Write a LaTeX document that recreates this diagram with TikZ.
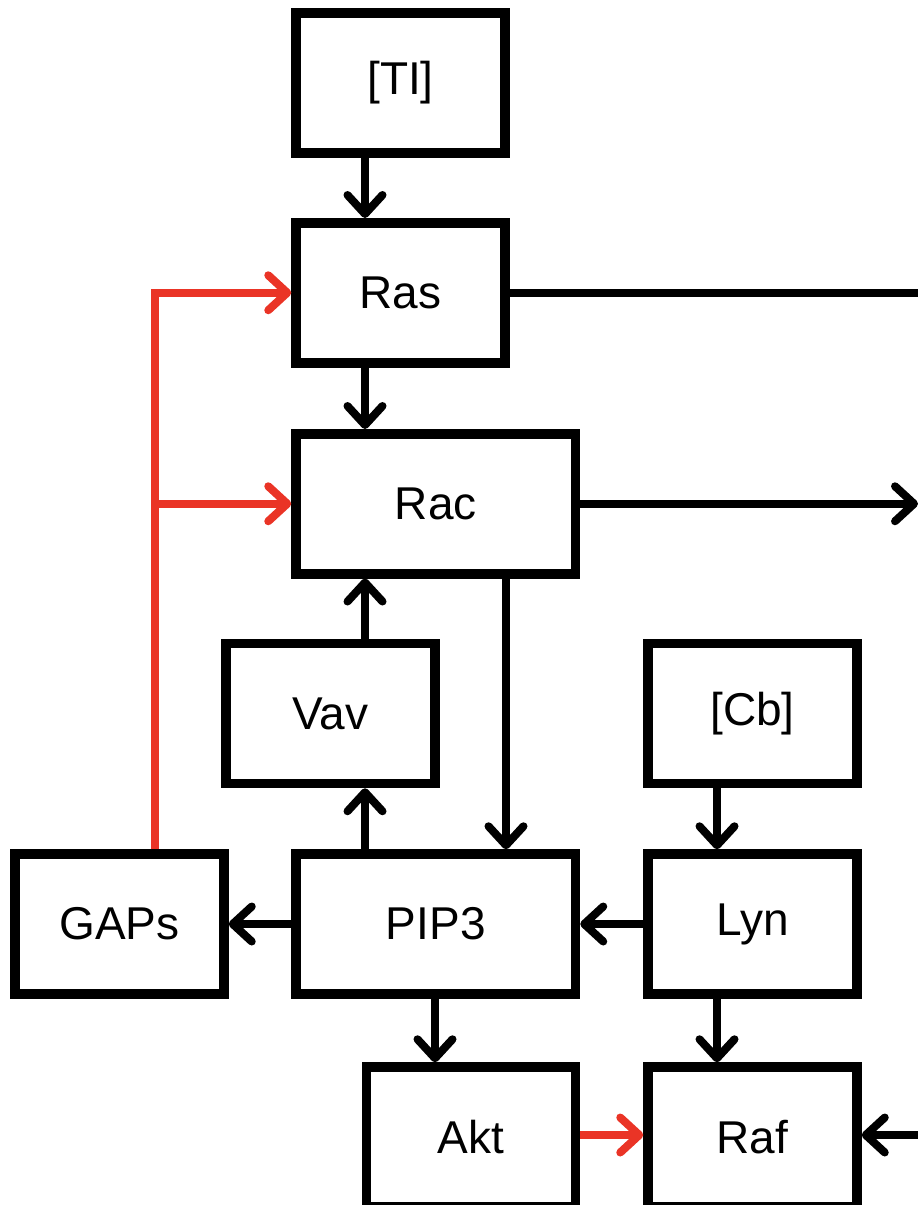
\documentclass[tikz,border=0pt]{standalone}
\usepackage{fontspec}
\setmainfont{Liberation Sans}
\usetikzlibrary{arrows.meta}
\definecolor{sigred}{RGB}{234,52,38}
\tikzset{
  box/.style={draw=black, line width=9.5pt, fill=white, minimum width=209pt, minimum height=140pt,
    inner sep=0pt, font=\fontsize{46}{50}\selectfont},
  widebox/.style={box, minimum width=279.5pt},
  arr/.style={draw=black, line width=8pt,
    -{Straight Barb[length=19pt,width=35pt,line cap=round,line join=round]}},
  redarr/.style={arr, draw=sigred},
}
\begin{document}
\begin{tikzpicture}[x=1pt,y=-1pt]
\useasboundingbox (0,0) rectangle (918,1205);
\node[box] (TI) at (400.5,82.75) {[TI]};
\node[box] (Ras) at (400.5,292.75) {Ras};
\node[widebox] (Rac) at (435.75,503.75) {Rac};
\node[box] (Vav) at (330.5,713.5) {Vav};
\node[box] (Cb) at (752.5,713.5) {[Cb]};
\node[box] (GAPs) at (119.5,924) {GAPs};
\node[widebox] (PIP3) at (435.75,924) {PIP3};
\node[box] (Lyn) at (752.5,924) {Lyn};
\node[box] (Akt) at (470.75,1137) {Akt};
\node[box] (Raf) at (752.5,1137) {Raf};

\coordinate (xa) at (365,0);
\coordinate (xb) at (506,0);
\coordinate (xc) at (435,0);
\coordinate (xd) at (717,0);
\coordinate (xr) at (155,0);
\coordinate (xv) at (923,0);
\coordinate (xt) at (918,0);
\coordinate (yr) at (0,1135);

\draw[arr] (TI.south -| xa) -- (Ras.north -| xa);
\draw[arr] (Ras.south -| xa) -- (Rac.north -| xa);
\draw[arr] (Vav.north -| xa) -- (Rac.south -| xa);
\draw[arr] (PIP3.north -| xa) -- (Vav.south -| xa);
\draw[arr] (Rac.south -| xb) -- (PIP3.north -| xb);
\draw[arr] (PIP3.west) -- (GAPs.east);
\draw[arr] (Lyn.west) -- (PIP3.east);
\draw[arr] (Cb.south -| xd) -- (Lyn.north -| xd);
\draw[arr] (PIP3.south -| xc) -- (Akt.north -| xc);
\draw[arr] (Lyn.south -| xd) -- (Raf.north -| xd);
\draw[redarr] (Akt.east |- yr) -- (Raf.west |- yr);
\draw[arr] (Ras.east) -- (Ras.east -| xv) -- (yr -| xv) -- (Raf.east |- yr);
\draw[arr] (Rac.east) -- (Rac.east -| xt);
\draw[redarr] (GAPs.north -| xr) -- (Ras.west -| xr) -- (Ras.west);
\draw[redarr] (Rac.west -| xr) -- (Rac.west);
\end{tikzpicture}
\end{document}
